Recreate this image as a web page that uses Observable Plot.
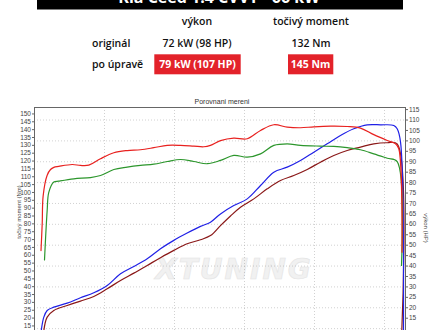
<!DOCTYPE html>
<html>
<head>
<meta charset="utf-8">
<script src="https://cdn.jsdelivr.net/npm/d3@7"></script>
<script src="https://cdn.jsdelivr.net/npm/@observablehq/plot@0.6"></script>
<style>
  html, body { margin: 0; padding: 0; background: #fff; width: 440px; height: 330px; overflow: hidden; }
  #wm, #chart, #overlay { position: absolute; left: 0; }
  #wm { top: 0; }
  #chart { top: 95px; }
  #overlay { top: 0; pointer-events: none; }
</style>
</head>
<body>
<svg id="wm" width="440" height="330"></svg>
<div id="chart"></div>
<svg id="overlay" width="440" height="330"></svg>
<script>
// ---- header / table data ----
const carTitle = "Kia Ceed 1.4 CVVT - 66 kW";
const colHeaders = ["výkon", "točivý moment"];
const rowLabels = ["originál", "po úpravě"];
const originalValues = ["72 kW (98 HP)", "132 Nm"];
const tunedValues = ["79 kW (107 HP)", "145 Nm"];
const chartTitle = "Porovnani mereni";
const leftAxisTitle = "točivý moment (Nm)";
const rightAxisTitle = "výkon (HP)";
const watermark = "XTUNING";

// ---- axis ticks ----
const leftTicks = d3.range(15, 151, 5);     // Nm
const rightTicks = d3.range(15, 116, 5);    // HP
const hpGrid = d3.range(10, 111, 10);       // HP grid lines
const rpmGrid = [2000, 3000, 4000, 5000, 6000];

// ---- series: [rpm, value] ----
const torqueTuned = [[1093,63],[1110,80],[1124,98],[1181,111],[1229,114.6],[1276,116],[1347,116.6],[1539,117.8],[1657,117.2],[1776,117.4],[1943,121.5],[2133,125.3],[2324,126.7],[2514,127.2],[2704,128.5],[2896,130],[3086,130],[3276,129.5],[3419,129.1],[3514,130],[3657,133],[3847,134.6],[4039,134.2],[4229,139.5],[4419,143.1],[4610,141.6],[4800,141.2],[4990,141.8],[5229,142.2],[5467,142],[5657,141],[5847,136.8],[6039,133.1],[6157,131],[6204,127.8],[6250,62]];
const torqueOrig = [[1143,57],[1181,88.5],[1204,100],[1276,106.6],[1347,107.2],[1561,108.7],[1800,109.5],[1943,110.8],[2133,114.6],[2324,116.1],[2514,117.2],[2704,118],[2896,119.7],[3086,121],[3276,119.7],[3467,118.3],[3657,120.4],[3847,123.6],[4039,122.5],[4229,124.6],[4419,130],[4610,131],[4800,130],[5086,129.5],[5276,129.3],[5467,128.5],[5657,127.2],[5847,124.6],[6039,121.8],[6181,119.7],[6243,53.5]];
const powerTuned = [[1096,9],[1133,15.5],[1181,18.7],[1276,20.3],[1467,22.2],[1657,24.8],[1847,27.2],[2039,30.7],[2229,36.3],[2419,39.8],[2610,43.5],[2800,48.3],[2990,52.3],[3181,55.8],[3371,59],[3514,61],[3657,65],[3847,69],[4039,72.2],[4229,78.6],[4419,85],[4610,87.4],[4800,90.6],[4990,94.6],[5181,98.6],[5371,102.6],[5561,105.8],[5753,107.7],[5943,107.7],[6133,107.4],[6181,105.8],[6229,99.4],[6271,5]];
const powerOrig = [[1133,9],[1181,15.5],[1276,18.7],[1467,21.1],[1657,23.2],[1847,25.4],[2039,29.1],[2229,33.1],[2419,36.6],[2610,40.3],[2800,44],[2990,47.5],[3181,50.7],[3371,52.6],[3514,54.6],[3657,59.4],[3800,64],[3943,68.2],[4133,72.2],[4324,77],[4514,81],[4704,83.4],[4896,86.3],[5086,89.8],[5276,93],[5467,95.4],[5657,97],[5847,98.6],[6039,99.1],[6181,98.6],[6243,5]];

// ---- colors ----
const cRed = "#e8211f", cGreen = "#2c962c", cBlue = "#2020e6", cDark = "#8a1818";

// HP -> Nm-scale factor (shared zero, right axis 0..116 vs left 0..154.1)
const yMax = 154.1, hpMax = 116.0, k = yMax / hpMax;

const font = "'Liberation Sans', Arial, sans-serif";

const plot = Plot.plot({
  width: 440,
  height: 260,
  marginLeft: 34,
  marginRight: 35,
  marginTop: 12,
  marginBottom: 6,
  style: { background: "transparent", fontFamily: font, fontSize: "6.5px", color: "#333" },
  x: { domain: [1000, 6300], axis: null },
  y: { domain: [0, yMax], axis: null },
  marks: [
    Plot.gridX(rpmGrid, { stroke: "#999", strokeOpacity: 0.45, strokeDasharray: "1,2" }),
    Plot.gridY(hpGrid.map(v => v * k), { stroke: "#999", strokeOpacity: 0.45, strokeDasharray: "1,2" }),
    Plot.axisY(leftTicks, { anchor: "left", tickSize: 2, tickPadding: 1.5, label: null, stroke: "#666", fill: "#444" }),
    Plot.axisY(rightTicks.map(v => v * k), { anchor: "right", tickSize: 2, tickPadding: 1.5, label: null, stroke: "#666", fill: "#444", tickFormat: d => String(Math.round(d / k)) }),
    Plot.line(powerOrig, { x: d => d[0], y: d => d[1] * k, stroke: cDark, strokeWidth: 1.2, curve: "catmull-rom" }),
    Plot.line(powerTuned, { x: d => d[0], y: d => d[1] * k, stroke: cBlue, strokeWidth: 1.2, curve: "catmull-rom" }),
    Plot.line(torqueOrig, { x: d => d[0], y: d => d[1], stroke: cGreen, strokeWidth: 1.2, curve: "catmull-rom" }),
    Plot.line(torqueTuned, { x: d => d[0], y: d => d[1], stroke: cRed, strokeWidth: 1.2, curve: "catmull-rom" }),
    Plot.frame({ stroke: "#666", strokeWidth: 1 })
  ]
});
document.getElementById("chart").appendChild(plot);

// ---- watermark (behind the chart) ----
const wm = d3.select("#wm");
wm.append("text").attr("x", 234).attr("y", 279).attr("text-anchor", "middle")
  .attr("font-family", "'DejaVu Sans', sans-serif").attr("font-weight", "bold").attr("font-style", "italic")
  .attr("font-size", 28).attr("fill", "#f1f1f1").attr("stroke", "#e4e4e4").attr("stroke-width", 0.6)
  .attr("letter-spacing", 2).text(watermark);

// ---- overlay texts ----
const ov = d3.select("#overlay");
ov.append("rect").attr("x", 37).attr("y", 0).attr("width", 366).attr("height", 9.5).attr("fill", "#000");
ov.append("text").attr("x", 219).attr("y", 3).attr("text-anchor", "middle")
  .attr("font-family", "'Open Sans', sans-serif").attr("font-weight", 700).attr("font-size", 16)
  .attr("fill", "#fff").text(carTitle);

const tf = "'Open Sans', sans-serif";
const colX = [197, 311];
colHeaders.forEach((t, i) => ov.append("text").attr("x", colX[i]).attr("y", 25).attr("text-anchor", "middle")
  .attr("font-family", tf).attr("font-weight", 600).attr("font-size", 10.5).attr("fill", "#111").text(t));
const rowY = [46.5, 68];
rowLabels.forEach((t, i) => ov.append("text").attr("x", 92).attr("y", rowY[i])
  .attr("font-family", tf).attr("font-weight", 600).attr("font-size", 10.5).attr("fill", "#111").text(t));
originalValues.forEach((t, i) => ov.append("text").attr("x", colX[i]).attr("y", rowY[0]).attr("text-anchor", "middle")
  .attr("font-family", tf).attr("font-weight", 600).attr("font-size", 10.5).attr("fill", "#111").text(t));
const boxes = [[154.3, 86.4], [288, 45.3]];
boxes.forEach(([bx, bw]) => ov.append("rect").attr("x", bx).attr("y", 54.3).attr("width", bw).attr("height", 20).attr("fill", "#e3222a"));
tunedValues.forEach((t, i) => ov.append("text").attr("x", boxes[i][0] + boxes[i][1] / 2).attr("y", rowY[1]).attr("text-anchor", "middle")
  .attr("font-family", tf).attr("font-weight", 700).attr("font-size", 10.5).attr("fill", "#fff").text(t));

ov.append("text").attr("x", 222).attr("y", 104).attr("text-anchor", "middle")
  .attr("font-family", font).attr("font-size", 7).attr("fill", "#333").text(chartTitle);
ov.append("text").attr("transform", "translate(21,212) rotate(-90)").attr("text-anchor", "middle")
  .attr("font-family", font).attr("font-size", 6).attr("fill", "#444").text(leftAxisTitle);
ov.append("text").attr("transform", "translate(424,228) rotate(90)").attr("text-anchor", "middle")
  .attr("font-family", font).attr("font-size", 6).attr("fill", "#444").text(rightAxisTitle);
</script>
</body>
</html>
